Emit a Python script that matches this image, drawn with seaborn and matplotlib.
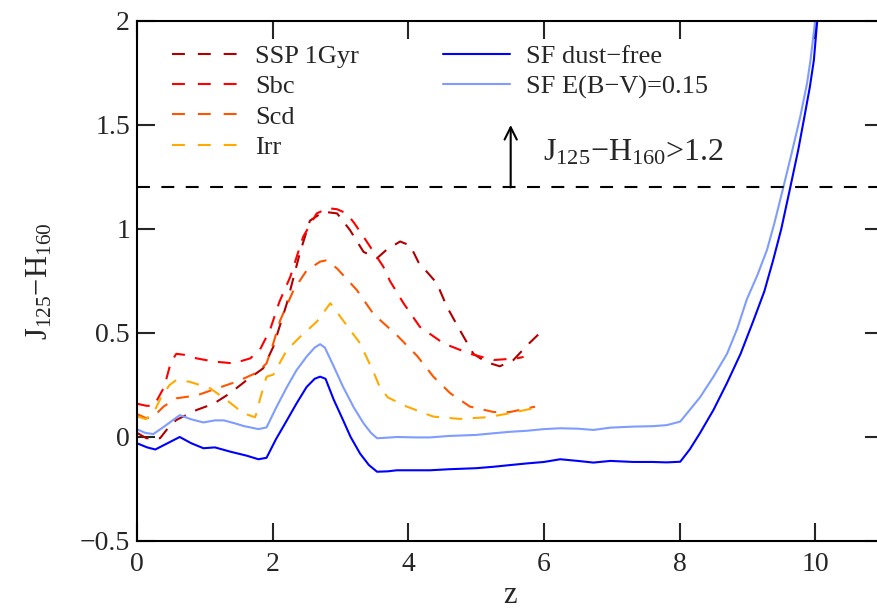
import numpy as np
import pandas as pd
import matplotlib
matplotlib.use("Agg")
import matplotlib.pyplot as plt
from matplotlib.lines import Line2D
import seaborn as sns

# ---------------- data ----------------
ssp_z = [0.0, 0.14, 0.34, 0.45, 0.58, 0.88, 1.13, 1.37, 1.62, 1.86, 2.01, 2.21, 2.40, 2.55,
         2.75, 2.95, 3.14, 3.34, 3.54, 3.68, 3.88, 4.03, 4.15, 4.42, 4.57, 4.76, 4.96, 5.15,
         5.35, 5.55, 5.75, 5.94]
ssp_c = [0.02, -0.006, -0.006, 0.04, 0.082, 0.13, 0.16, 0.21, 0.274, 0.33, 0.434, 0.643, 0.883, 1.04,
         1.083, 1.075, 0.995, 0.89, 0.86, 0.90, 0.94, 0.92, 0.84, 0.74, 0.626, 0.514, 0.40, 0.36,
         0.34, 0.37, 0.44, 0.50]

sbc_z = [0.0, 0.14, 0.25, 0.4, 0.5, 0.58, 0.7, 0.88, 1.13, 1.42, 1.67, 1.81, 1.96, 2.1, 2.26,
         2.45, 2.65, 2.82, 2.95, 3.09, 3.2, 3.34, 3.63, 3.73, 3.93, 4.17, 4.52, 4.91, 5.26, 5.6, 5.7]
sbc_c = [0.16, 0.15, 0.15, 0.24, 0.36, 0.40, 0.395, 0.378, 0.363, 0.354, 0.378, 0.418, 0.514, 0.65, 0.77,
         0.963, 1.075, 1.10, 1.095, 1.075, 1.03, 0.963, 0.82, 0.75, 0.643, 0.53, 0.45, 0.40, 0.37, 0.378, 0.385]

scd_z = [0.0, 0.14, 0.25, 0.39, 0.58, 0.88, 1.18, 1.47, 1.77, 1.91, 2.0, 2.11, 2.31, 2.50, 2.70,
         2.80, 2.95, 3.24, 3.49, 3.83, 4.13, 4.37, 4.62, 4.91, 5.26, 5.50, 5.87]
scd_c = [0.11, 0.09, 0.10, 0.146, 0.186, 0.20, 0.234, 0.266, 0.31, 0.354, 0.44, 0.56, 0.707, 0.80, 0.843,
         0.85, 0.81, 0.707, 0.59, 0.49, 0.39, 0.29, 0.21, 0.146, 0.12, 0.12, 0.146]

irr_z = [0.0, 0.13, 0.25, 0.36, 0.48, 0.58, 0.77, 1.08, 1.32, 1.57, 1.74, 1.78, 1.81, 1.91, 2.01,
         2.21, 2.40, 2.65, 2.85, 3.04, 3.29, 3.49, 3.58, 3.7, 3.98, 4.37, 4.76, 5.16, 5.50, 5.87]
irr_c = [0.10, 0.086, 0.12, 0.194, 0.25, 0.274, 0.266, 0.234, 0.178, 0.114, 0.095, 0.13, 0.178, 0.29, 0.30,
         0.418, 0.48, 0.554, 0.643, 0.56, 0.45, 0.31, 0.24, 0.19, 0.146, 0.098, 0.087, 0.095, 0.114, 0.14]

sf_z = [0.0, 0.15, 0.27, 0.45, 0.63, 0.8, 0.98, 1.15, 1.37, 1.62, 1.79, 1.91, 2.05, 2.21, 2.35,
        2.5, 2.62, 2.70, 2.78, 2.9, 3.04, 3.15, 3.29, 3.42, 3.54, 3.7, 3.83, 4.1, 4.32, 4.6,
        5.0, 5.26, 5.5, 5.75, 6.0, 6.24, 6.5, 6.73, 6.98, 7.32, 7.6, 7.81, 8.01, 8.15, 8.30,
        8.5, 8.70, 8.9, 9.09, 9.25, 9.38, 9.5, 9.63, 9.75, 9.83, 9.92, 9.98, 10.03, 10.1]
sf_c = [-0.03, -0.05, -0.06, -0.03, 0.0, -0.03, -0.054, -0.05, -0.07, -0.09, -0.107, -0.10, -0.01, 0.08, 0.16,
        0.24, 0.28, 0.29, 0.28, 0.18, 0.08, 0.0, -0.08, -0.135, -0.167, -0.165, -0.16, -0.16, -0.16, -0.155,
        -0.15, -0.143, -0.135, -0.127, -0.12, -0.107, -0.115, -0.123, -0.115, -0.12, -0.12, -0.122, -0.119, -0.06, 0.018,
        0.13, 0.26, 0.40, 0.56, 0.70, 0.85, 1.0, 1.196, 1.38, 1.52, 1.68, 1.81, 2.0, 2.3]

sfd_z = [0.0, 0.12, 0.24, 0.4, 0.63, 0.8, 0.98, 1.15, 1.28, 1.45, 1.57, 1.79, 1.91, 2.05, 2.21,
         2.35, 2.5, 2.62, 2.70, 2.77, 2.9, 3.04, 3.2, 3.34, 3.45, 3.54, 3.7, 3.83, 4.1, 4.32,
         4.6, 5.0, 5.26, 5.5, 5.75, 6.0, 6.24, 6.5, 6.73, 6.98, 7.32, 7.6, 7.81, 8.01, 8.15,
         8.30, 8.5, 8.70, 8.85, 8.99, 9.15, 9.29, 9.4, 9.53, 9.65, 9.78, 9.88, 9.93, 10.0, 10.06]
sfd_c = [0.037, 0.02, 0.014, 0.05, 0.105, 0.085, 0.07, 0.08, 0.08, 0.065, 0.053, 0.038, 0.046, 0.14, 0.24,
         0.32, 0.386, 0.43, 0.446, 0.43, 0.34, 0.24, 0.14, 0.066, 0.02, -0.006, -0.003, 0.0, -0.002, -0.002,
         0.005, 0.01, 0.018, 0.025, 0.03, 0.038, 0.042, 0.04, 0.034, 0.045, 0.05, 0.052, 0.057, 0.074, 0.13,
         0.19, 0.29, 0.40, 0.52, 0.66, 0.78, 0.90, 1.03, 1.20, 1.36, 1.54, 1.70, 1.81, 2.0, 2.25]

labels = ["SSP 1Gyr", "Sbc", "Scd", "Irr", "SF dust\u2212free", "SF E(B\u2212V)=0.15"]
colors = ["#b00000", "#ff0000", "#ff5500", "#ffaa00", "#0000ff", "#7f9cff"]
threshold = 1.2
xticks = [0, 2, 4, 6, 8, 10]
yticks = [-0.5, 0, 0.5, 1, 1.5, 2]
yticklabels = ["\u22120.5", "0", "0.5", "1", "1.5", "2"]

# ---------------- style ----------------
sns.set_style("ticks")
plt.rcParams["font.family"] = ["Liberation Serif", "DejaVu Serif"]
plt.rcParams["mathtext.fontset"] = "custom"
plt.rcParams["mathtext.rm"] = "Liberation Serif"
plt.rcParams["mathtext.it"] = "Liberation Serif"
plt.rcParams["axes.unicode_minus"] = True

series = [(ssp_z, ssp_c), (sbc_z, sbc_c), (scd_z, scd_c), (irr_z, irr_c), (sf_z, sf_c), (sfd_z, sfd_c)]
frames = []
for lab, (zz, cc) in zip(labels, series):
    frames.append(pd.DataFrame({"z": zz, "c": cc, "series": lab}))
df = pd.concat(frames, ignore_index=True)

DASH = (6.2, 5.0)
palette = dict(zip(labels, colors))
dashes = {lab: (DASH if i < 4 else "") for i, lab in enumerate(labels)}

fig = plt.figure(figsize=(8.78, 6.10), dpi=100)
ax = fig.add_axes([137 / 878, 69 / 610, 746 / 878, 520 / 610])

sns.lineplot(data=df, x="z", y="c", hue="series", style="series", palette=palette,
             dashes=dashes, estimator=None, sort=False, legend=False, lw=1.5, ax=ax)

ax.axhline(threshold, color="black", lw=1.5, dashes=(6.2, 5.5))

ax.annotate("", xy=(5.51, 1.5), xytext=(5.51, threshold),
            arrowprops=dict(arrowstyle="->", lw=1.5, color="black", mutation_scale=22,
                            shrinkA=0, shrinkB=0))
ax.text(5.98, 1.33, "J$_{125}$\u2212H$_{160}$>1.2", fontsize=23, ha="left", va="baseline")

ax.set_xlim(0, 11)
ax.set_ylim(-0.5, 2)
ax.set_xticks(xticks)
ax.set_yticks(yticks)
ax.set_yticklabels(yticklabels)
ax.tick_params(direction="in", length=13, width=1.5, labelsize=20, top=True, right=True, pad=5)
ax.tick_params(axis="x", pad=8)
for s in ax.spines.values():
    s.set_linewidth(1.5)
    s.set_color("black")

ax.set_xlabel("z", fontsize=22)
ax.set_ylabel("J$_{125}$\u2212H$_{160}$", fontsize=22)
ax.xaxis.set_label_coords(0.5, -0.077)
ax.yaxis.set_label_coords(-0.11, 0.5)

handles = []
for i, lab in enumerate(labels):
    if i < 4:
        handles.append(Line2D([], [], color=colors[i], lw=1.5, dashes=(6.2, 6.2), label=lab))
    else:
        handles.append(Line2D([], [], color=colors[i], lw=1.5, label=lab))
handles += [Line2D([], [], linestyle="none", label=""), Line2D([], [], linestyle="none", label="")]
ax.legend(handles=handles, ncol=2, loc="upper left", bbox_to_anchor=(0.033, 0.975), frameon=False,
          fontsize=19, handlelength=2.54, handletextpad=0.6, labelspacing=0.26, columnspacing=3.2,
          borderaxespad=0)

fig.savefig("out.png", dpi=100)
